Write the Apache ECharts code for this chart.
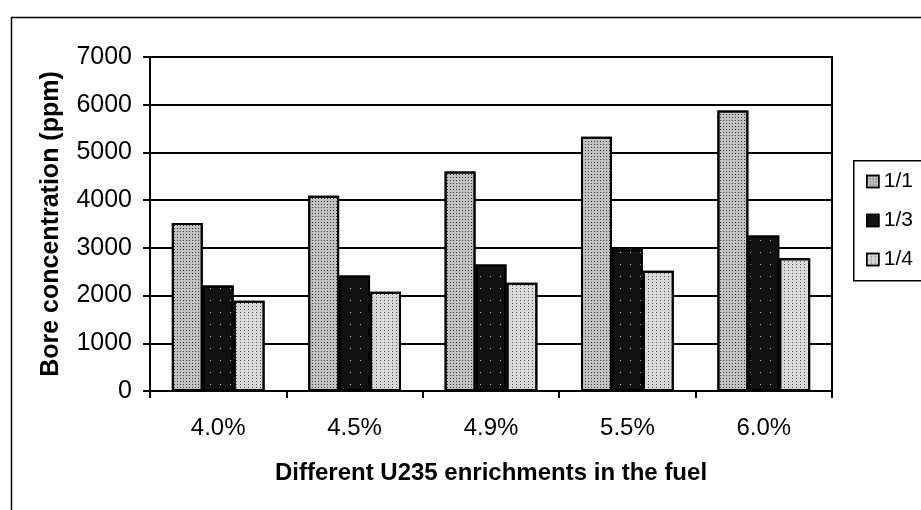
<!DOCTYPE html>
<html>
<head>
<meta charset="utf-8">
<script src="https://cdn.jsdelivr.net/npm/echarts@6/dist/echarts.min.js"></script>
<style>
  html, body { margin: 0; padding: 0; background: #fff; }
  #chart { width: 921px; height: 510px; }
</style>
</head>
<body>
<div id="chart"></div>
<script>
// enrichment levels on the x axis
const categories = ['4.0%', '4.5%', '4.9%', '5.5%', '6.0%']
const seriesNames = ['1/1', '1/3', '1/4']
// bore concentration (ppm)
const ratio11 = [3520, 4090, 4600, 5330, 5880]
const ratio13 = [2210, 2420, 2650, 2970, 3260]
const ratio14 = [1890, 2080, 2270, 2520, 2780]
const yTicks = [0, 1000, 2000, 3000, 4000, 5000, 6000, 7000]

const font = 'Liberation Sans, Arial, sans-serif'

// stippled greys like the scanned print
const styles = [
  { color: '#c2c2c2', decal: { symbol: 'rect', symbolSize: 1, dashArrayX: [1, 2], dashArrayY: [1, 2], color: '#3a3a3a' } },
  { color: '#121212', decal: { symbol: 'rect', symbolSize: 1, dashArrayX: [1, 9], dashArrayY: [1, 11], color: '#bbb' } },
  { color: '#d8d8d8', decal: { symbol: 'rect', symbolSize: 1, dashArrayX: [1, 3], dashArrayY: [1, 2], color: '#555' } }
]

const chart = echarts.init(document.getElementById('chart'))

const makeBar = (name, data, i) => ({
  name,
  type: 'bar',
  data,
  barGap: '0%',
  barCategoryGap: '32%',
  itemStyle: Object.assign({ borderColor: '#000', borderWidth: 2 }, styles[i])
})

chart.setOption({
  backgroundColor: '#fff',
  animation: false,
  graphic: [
    {
      // outer chart frame, runs off the right/bottom edge like the scan
      type: 'rect',
      left: 9,
      top: 15,
      shape: { width: 1000, height: 600 },
      style: { fill: 'none', stroke: '#000', lineWidth: 1.5 }
    },
    {
      // legend box
      type: 'rect',
      left: 853,
      top: 160,
      shape: { width: 100, height: 120 },
      style: { fill: '#fff', stroke: '#000', lineWidth: 1.5 },
      z: 1
    }
  ],
  legend: {
    data: seriesNames,
    orient: 'vertical',
    left: 861,
    top: 166,
    itemWidth: 12,
    itemHeight: 12,
    itemGap: 18,
    icon: 'rect',
    z: 5,
    itemStyle: { borderColor: '#000', borderWidth: 1.5 },
    textStyle: { fontFamily: font, fontSize: 21, color: '#000' }
  },
  grid: {
    left: 150,
    right: 89,
    top: 57,
    bottom: 119,
    show: true,
    borderColor: '#000',
    borderWidth: 2
  },
  xAxis: {
    type: 'category',
    data: categories,
    name: 'Different U235 enrichments in the fuel',
    nameLocation: 'middle',
    nameGap: 70,
    nameTextStyle: { fontFamily: font, fontSize: 24, fontWeight: 'bold', color: '#000' },
    axisLine: { lineStyle: { color: '#000', width: 2 } },
    axisTick: { show: true, length: 7, lineStyle: { color: '#000', width: 2 } },
    axisLabel: { fontFamily: font, fontSize: 24, color: '#000', margin: 25 }
  },
  yAxis: {
    type: 'value',
    min: yTicks[0],
    max: yTicks[yTicks.length - 1],
    interval: 1000,
    name: 'Bore concentration (ppm)',
    nameLocation: 'middle',
    nameGap: 86,
    nameTextStyle: { fontFamily: font, fontSize: 25, fontWeight: 'bold', color: '#000' },
    axisLine: { show: true, lineStyle: { color: '#000', width: 2 } },
    axisTick: { show: true, length: 7, lineStyle: { color: '#000', width: 2 } },
    axisLabel: { fontFamily: font, fontSize: 25, color: '#000', margin: 18, formatter: v => String(v) },
    splitLine: { lineStyle: { color: '#000', width: 2 } }
  },
  series: [
    makeBar(seriesNames[0], ratio11, 0),
    makeBar(seriesNames[1], ratio13, 1),
    makeBar(seriesNames[2], ratio14, 2)
  ]
})
</script>
</body>
</html>
